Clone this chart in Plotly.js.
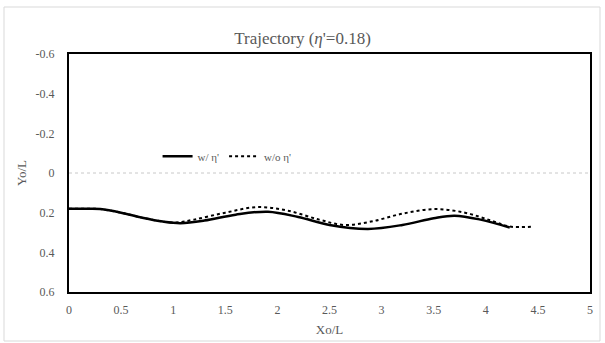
<!DOCTYPE html>
<html>
<head>
<meta charset="utf-8">
<script src="https://cdn.plot.ly/plotly-3.0.1.min.js"></script>
<style>html,body{margin:0;padding:0;background:#fff}#chart{width:605px;height:343px}</style>
</head>
<body>
<div id="chart"></div>
<script>
// Series: with eta'
const xWith = [0, 0.2, 0.3, 0.5, 0.7, 0.9, 1.07, 1.3, 1.6, 1.91, 2.2, 2.5, 2.87, 3.2, 3.5, 3.7, 3.95, 4.23];
const yWith = [0.18, 0.18, 0.182, 0.2, 0.225, 0.245, 0.253, 0.24, 0.21, 0.195, 0.222, 0.262, 0.282, 0.262, 0.228, 0.215, 0.235, 0.275];
// Series: without eta'
const xWithout = [0, 0.2, 0.3, 0.5, 0.7, 0.9, 1.02, 1.2, 1.5, 1.81, 2.1, 2.4, 2.64, 2.9, 3.2, 3.51, 3.8, 4.05, 4.23, 4.46];
const yWithout = [0.18, 0.18, 0.182, 0.2, 0.225, 0.245, 0.25, 0.235, 0.2, 0.172, 0.19, 0.235, 0.262, 0.245, 0.205, 0.182, 0.2, 0.24, 0.27, 0.27];
const seriesNames = ["w/ \u03b7'", "w/o \u03b7'"];
// Tick labels
const xTickVals = [0, 0.5, 1, 1.5, 2, 2.5, 3, 3.5, 4, 4.5, 5];
const xTickText = ["0", "0.5", "1", "1.5", "2", "2.5", "3", "3.5", "4", "4.5", "5"];
const yTickVals = [-0.6, -0.4, -0.2, 0, 0.2, 0.4, 0.6];
const yTickText = ["-0.6", "-0.4", "-0.2", "0", "0.2", "0.4", "0.6"];

const gray = "#595959";
const serif = "'Liberation Serif', 'DejaVu Serif', serif";

const traces = [
  {x: xWith, y: yWith, name: seriesNames[0], mode: "lines",
   line: {color: "#000", width: 2.5, shape: "spline", smoothing: 1}},
  {x: xWithout, y: yWithout, name: seriesNames[1], mode: "lines",
   line: {color: "#000", width: 2, dash: "dot", shape: "spline", smoothing: 1}}
];

const layout = {
  width: 605, height: 343,
  margin: {l: 69, r: 15, t: 54, b: 51},
  paper_bgcolor: "#fff", plot_bgcolor: "#fff",
  font: {family: serif, color: gray, size: 12},
  title: {text: "Trajectory (<i>\u03b7</i>'=0.18)", font: {family: serif, size: 17, color: gray},
          x: 0.5, xref: "container", y: 1 - 38/343, yref: "container", yanchor: "middle"},
  showlegend: true,
  legend: {orientation: "h", x: 0.17, y: 0.57, xanchor: "left", yanchor: "middle",
           bgcolor: "rgba(0,0,0,0)", font: {family: serif, size: 11, color: gray}},
  xaxis: {range: [0, 5], tickvals: xTickVals, ticktext: xTickText, showgrid: false, zeroline: false,
          showline: true, mirror: true, linecolor: "#000", linewidth: 2, ticks: "",
          ticklabelstandoff: 6, tickfont: {family: serif, size: 12, color: gray},
          title: {text: "Xo/L", font: {family: serif, size: 13, color: gray}, standoff: 8}},
  yaxis: {range: [0.6, -0.6], tickvals: yTickVals, ticktext: yTickText, showgrid: false, zeroline: false,
          showline: true, mirror: true, linecolor: "#000", linewidth: 2, ticks: "",
          ticklabelstandoff: 10, tickfont: {family: serif, size: 12, color: gray},
          title: {text: "Yo/L", font: {family: serif, size: 13, color: gray}, standoff: 6}},
  shapes: [
    {type: "line", xref: "paper", yref: "y", x0: 0, x1: 1, y0: 0, y1: 0,
     line: {color: "#c8c8c8", width: 1, dash: "dot"}, layer: "below"},
    {type: "rect", xref: "paper", yref: "paper", x0: (4-69)/521, x1: (600-69)/521,
     y0: (292-341)/238, y1: (292-7)/238, line: {color: "#d9d9d9", width: 1}}
  ]
};

Plotly.newPlot("chart", traces, layout, {displayModeBar: false, staticPlot: true});
</script>
</body>
</html>
